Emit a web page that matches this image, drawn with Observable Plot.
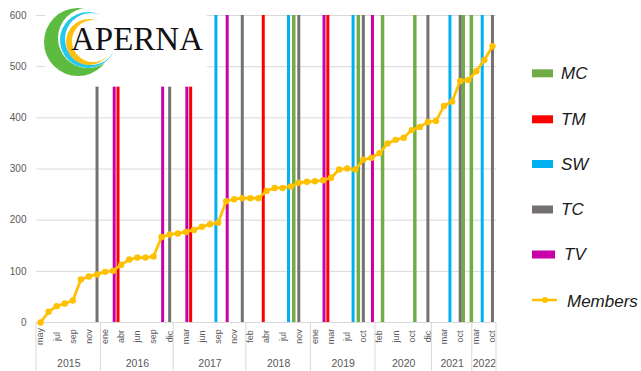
<!DOCTYPE html>
<html><head><meta charset="utf-8">
<script src="https://cdn.jsdelivr.net/npm/d3@7"></script>
<script src="https://cdn.jsdelivr.net/npm/@observablehq/plot@0.6"></script>
<style>
html,body{margin:0;padding:0;background:#fff;}
#chart{position:relative;width:641px;height:371px;overflow:hidden;}
</style></head><body><div id="chart"></div>
<script>
// ---- data ----
const members = [0,21,32,37,43,84,90,94,99,101,113,123,127,127,129,167,172,174,177,181,187,192,195,237,241,243,243,243,257,263,263,266,273,275,276,278,283,299,301,299,318,322,331,350,357,361,376,382,392,394,423,432,472,474,491,513,540];
const monthTicks = ["may","jul","sep","nov","ene","abr","jun","sep","dic","mar","jun","sep","nov","feb","abr","jul","nov","ene","mar","jul","oct","feb","jun","oct","dic","mar","oct","mar","oct"];
const years = ["2015","2016","2017","2018","2019","2020","2021","2022"];
const yearMonths = [8,9,9,8,8,7,5,3];
const seriesNames = ["MC","TM","SW","TC","TV"];
const eventMC = [31,39,42,46,52,53];
const eventTopMC = [600,600,600,600,600,600];
const eventTM = [10,19,28,36];
const eventTopTM = [460,460,600,600];
const eventSW = [22,31,39,51,55];
const eventTopSW = [600,600,600,600,600];
const eventTC = [7,16,25,32,40,48,52,56];
const eventTopTC = [460,460,600,600,600,600,600,600];
const eventTV = [9,15,18,23,35,41];
const eventTopTV = [460,460,460,600,600,600];
const yTicks = [0,100,200,300,400,500,600];

// ---- styles ----
const colors = {MC:"#70AD47",TM:"#FF0000",SW:"#00B0F0",TC:"#767171",TV:"#C800A8"};
const dodge = {MC:0.38,TM:-0.4,SW:-0.27,TC:0,TV:0.13};
const widths = {MC:3.5,TM:3,SW:3,TC:3,TV:3};
const membersColor = "#FFC000";

const eventSets = {MC:[eventMC,eventTopMC],TM:[eventTM,eventTopTM],SW:[eventSW,eventTopSW],TC:[eventTC,eventTopTC],TV:[eventTV,eventTopTV]};
const eventRows = s => eventSets[s][0].map((c,k)=>({cat:c, top:eventSets[s][1][k]}));

const yearStart = [];
yearMonths.reduce((acc,n,i)=>{yearStart[i]=acc; return acc+n;},0);
const nCat = members.length;

const chart = Plot.plot({
  width:641, height:371,
  marginLeft:36, marginRight:145, marginTop:15, marginBottom:49,
  style:{fontFamily:"'Liberation Sans', Arial, sans-serif", fontSize:"10px", background:"white", overflow:"visible"},
  x:{domain:[-0.5, nCat-0.5], axis:null},
  y:{domain:[0,600], axis:null},
  marks:[
    Plot.ruleY(yTicks, {stroke:"#D9D9D9", strokeWidth:1}),
    Plot.axisY({ticks:yTicks, tickSize:0, tickPadding:10, label:null, fontSize:10, fill:"#595959"}),
    ...seriesNames.map(s => Plot.ruleX(eventRows(s), {x:d=>d.cat+dodge[s], y1:0, y2:"top", stroke:colors[s], strokeWidth:widths[s]})),
    Plot.line(members, {x:(d,i)=>i, y:d=>d, stroke:membersColor, strokeWidth:2.75}),
    Plot.dot(members, {x:(d,i)=>i, y:d=>d, r:3.2, fill:membersColor, stroke:null}),
    Plot.text(monthTicks, {x:(d,i)=>i*2, y:()=>0, text:d=>d, rotate:-90, dy:14, fontSize:9, fill:"#595959"}),
    Plot.text(years, {x:(d,i)=>yearStart[i]+yearMonths[i]/2-0.5, y:()=>0, text:d=>d, dy:41, fontSize:10.5, fill:"#595959"})
  ]
});
document.getElementById("chart").appendChild(chart);

const svg = d3.select(chart);
const xs = chart.scale("x");
const ys = chart.scale("y");
const y0 = ys.apply(0);
const bounds = yearStart.concat([nCat]);
svg.append("g").selectAll("line").data(bounds).join("line")
  .attr("x1", b=>xs.apply(b-0.5)).attr("x2", b=>xs.apply(b-0.5))
  .attr("y1", y0).attr("y2", 371)
  .attr("stroke", "#D9D9D9").attr("stroke-width", 1);

// ---- logo ----
const logo = svg.append("g");
logo.append("rect").attr("x",45).attr("y",4).attr("width",162).attr("height",74).attr("fill","white");
logo.append("circle").attr("cx",78).attr("cy",42).attr("r",34).attr("fill","#5DBB3F");
logo.append("circle").attr("cx",88).attr("cy",38).attr("r",30).attr("fill","white");
logo.append("circle").attr("cx",88).attr("cy",40).attr("r",28).attr("fill","#22C8F0");
logo.append("circle").attr("cx",91).attr("cy",39).attr("r",26).attr("fill","white");
logo.append("circle").attr("cx",89).attr("cy",42).attr("r",23).attr("fill","#FDC010");
logo.append("circle").attr("cx",93).attr("cy",41).attr("r",21).attr("fill","white");
logo.append("text").attr("x",71).attr("y",50).attr("text-anchor","start")
  .attr("font-family","'Liberation Serif', 'DejaVu Serif', serif")
  .attr("font-size",33).attr("fill","#111").text("APERNA");

// ---- legend ----
const legendY = {MC:73.3, TM:119.3, SW:164, TC:209.5, TV:254.5};
const lg = svg.append("g").attr("text-anchor","start").attr("font-family","'Liberation Sans', Arial, sans-serif").attr("font-style","italic").attr("font-size",17).attr("fill","#1a1a1a");
seriesNames.forEach(s=>{
  lg.append("rect").attr("x",532).attr("y",legendY[s]-4).attr("width", s==="TV"?23:21).attr("height",8).attr("fill",colors[s]);
  lg.append("text").attr("x", s==="TV"?564:561).attr("y",legendY[s]).attr("dy","0.35em").text(s);
});
lg.append("line").attr("x1",532).attr("x2",557).attr("y1",300).attr("y2",300).attr("stroke",membersColor).attr("stroke-width",2.5);
lg.append("circle").attr("cx",545).attr("cy",300).attr("r",3).attr("fill",membersColor);
lg.append("text").attr("x",567).attr("y",301.5).attr("dy","0.35em").text("Members");
</script></body></html>
